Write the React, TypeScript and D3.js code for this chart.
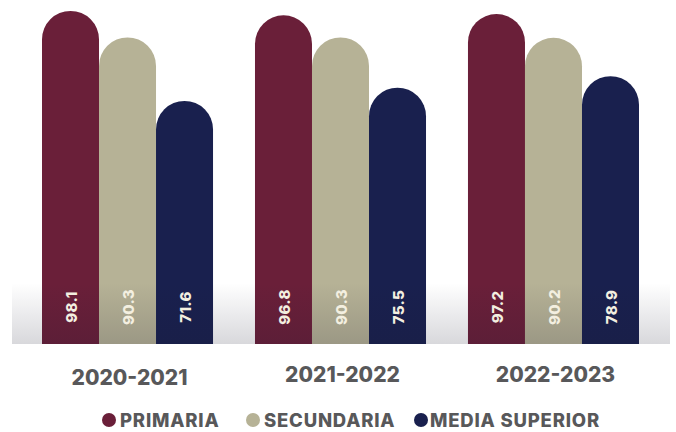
import React from "react";
import * as d3 from "d3";

const periods = ["2020-2021", "2021-2022", "2022-2023"];
const seriesNames = ["PRIMARIA", "SECUNDARIA", "MEDIA SUPERIOR"];
const primaria = [98.1, 96.8, 97.2];
const secundaria = [90.3, 90.3, 90.2];
const mediaSuperior = [71.6, 75.5, 78.9];
const colors = ["#6a1f39", "#b6b296", "#19204e"];

const W = 676;
const H = 432;

export default function App() {
  const seriesValues = [primaria, secundaria, mediaSuperior];
  const x0 = d3.scaleBand<string>().domain(periods).range([42, 639]).paddingInner(0.197).paddingOuter(0);
  const x1 = d3.scaleBand<string>().domain(seriesNames).range([0, x0.bandwidth()]).padding(0);
  const y = d3.scaleLinear().domain([0, 100]).range([344, 4.5]);

  const barPath = (x: number, w: number, v: number) => {
    const r = w / 2;
    const top = y(v);
    const bottom = y(0);
    const p = d3.path();
    p.moveTo(x, bottom);
    p.lineTo(x, top + r);
    p.arc(x + r, top + r, r, Math.PI, 0, false);
    p.lineTo(x + w, bottom);
    p.closePath();
    return p.toString();
  };

  const legendX = [109, 253, 421];
  const legendTextX = [120, 264, 430];

  return (
    <svg width={W} height={H} style={{ position: "absolute", left: 0, top: 0, background: "#fff" }}
      fontFamily="Inter, 'Open Sans', sans-serif">
      <defs>
        <linearGradient id="band" x1="0" y1="0" x2="0" y2="1">
          <stop offset="0" stopColor="#1a1a30" stopOpacity={0} />
          <stop offset="1" stopColor="#1a1a30" stopOpacity={0.17} />
        </linearGradient>
      </defs>
      <rect x={0} y={0} width={W} height={H} fill="#fff" />
      {periods.map((p, i) => (
        <g key={p}>
          {seriesNames.map((s, j) => (
            <path key={s} d={barPath((x0(p) || 0) + (x1(s) || 0), x1.bandwidth(), seriesValues[j][i])} fill={colors[j]} />
          ))}
        </g>
      ))}
      <rect x={12} y={283} width={658} height={y(0) - 283} fill="url(#band)" />
      {periods.map((p, i) => (
        <g key={p + "l"}>
          {seriesNames.map((s, j) => {
            const cx = (x0(p) || 0) + (x1(s) || 0) + x1.bandwidth() / 2 + 1;
            return (
              <text key={s} transform={`translate(${cx},307) rotate(-90)`} textAnchor="middle" dy="0.36em"
                fill="#f3efe0" fontSize={15} fontWeight={800} letterSpacing={0.3}>
                {seriesValues[j][i].toFixed(1)}
              </text>
            );
          })}
          <text x={(x0(p) || 0) + x0.bandwidth() / 2 + 2} y={i === 0 ? 385 : 382} textAnchor="middle"
            fill="#58585a" fontSize={21} fontWeight={800}>
            {p}
          </text>
        </g>
      ))}
      {seriesNames.map((s, j) => (
        <g key={s + "leg"}>
          <circle cx={legendX[j]} cy={420} r={7} fill={colors[j]} />
          <text x={legendTextX[j]} y={426.5} fill="#58585a" fontSize={18.5} fontWeight={800} letterSpacing={0.8}>{s}</text>
        </g>
      ))}
    </svg>
  );
}
